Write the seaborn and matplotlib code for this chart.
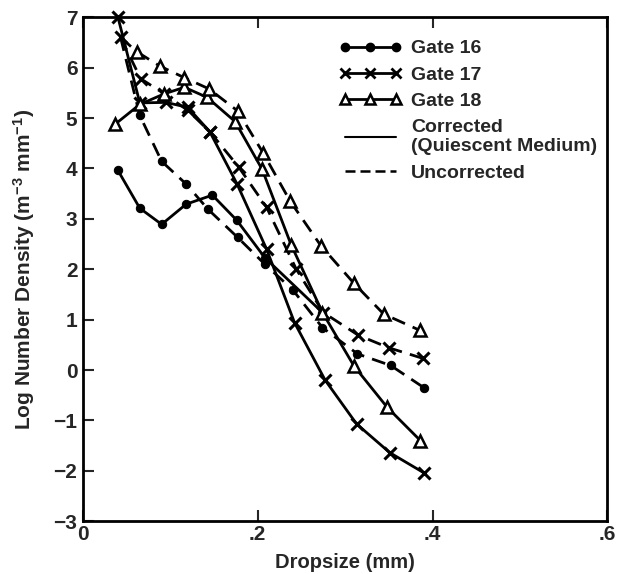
import matplotlib
matplotlib.use("Agg")
import matplotlib.pyplot as plt
import seaborn as sns
import pandas as pd
from matplotlib.lines import Line2D

# ---- data ----
g16_corr_x = [0.040, 0.065, 0.090, 0.118, 0.148, 0.176, 0.208, 0.274]
g16_corr_y = [3.96, 3.21, 2.89, 3.29, 3.47, 2.97, 2.23, 1.14]
g16_unc_x = [0.043, 0.065, 0.090, 0.118, 0.143, 0.177, 0.208, 0.240, 0.274, 0.314, 0.352, 0.390]
g16_unc_y = [6.60, 5.05, 4.14, 3.69, 3.19, 2.63, 2.10, 1.59, 0.84, 0.32, 0.09, -0.35]

g17_corr_x = [0.040, 0.065, 0.095, 0.120, 0.145, 0.176, 0.210, 0.242, 0.277, 0.313, 0.351, 0.390]
g17_corr_y = [7.00, 5.30, 5.31, 5.21, 4.73, 3.70, 2.40, 0.94, -0.20, -1.07, -1.64, -2.04]
g17_unc_x = [0.043, 0.066, 0.093, 0.120, 0.145, 0.178, 0.210, 0.244, 0.275, 0.315, 0.350, 0.389]
g17_unc_y = [6.60, 5.78, 5.48, 5.15, 4.73, 4.03, 3.23, 2.00, 1.14, 0.69, 0.44, 0.23]

g18_corr_x = [0.037, 0.065, 0.093, 0.116, 0.142, 0.174, 0.205, 0.238, 0.274, 0.310, 0.348, 0.386]
g18_corr_y = [4.88, 5.27, 5.48, 5.61, 5.41, 4.93, 3.98, 2.49, 1.14, 0.08, -0.74, -1.40]
g18_unc_x = [0.043, 0.062, 0.088, 0.116, 0.144, 0.177, 0.206, 0.237, 0.272, 0.310, 0.344, 0.385]
g18_unc_y = [6.60, 6.31, 6.03, 5.80, 5.58, 5.14, 4.31, 3.35, 2.47, 1.72, 1.11, 0.79]

x_ticks = [0, 0.2, 0.4, 0.6]
x_tick_labels = ["0", ".2", ".4", ".6"]
y_ticks = [-3, -2, -1, 0, 1, 2, 3, 4, 5, 6, 7]

legend_labels = ["Gate 16", "Gate 17", "Gate 18", "Corrected\n(Quiescent Medium)", "Uncorrected"]

# ---- style ----
sns.set_theme(style="ticks")
plt.rcParams["font.family"] = ["Liberation Sans", "DejaVu Sans"]
plt.rcParams["font.weight"] = "bold"
plt.rcParams["mathtext.default"] = "regular"

fig = plt.figure(figsize=(6.17, 5.74), dpi=100)
ax = fig.add_axes([0.1345, 0.092, 0.850, 0.878])

lw = 2.0
dot = dict(markersize=6, markerfacecolor="black")
cross = dict(markersize=9, markeredgewidth=2.2)
tri = dict(markersize=8.5, markerfacecolor="white", markeredgewidth=1.8)
series = [
    (g16_corr_x, g16_corr_y, "o", "-", dot, None),
    (g16_unc_x, g16_unc_y, "o", "--", dot, list(range(1, len(g16_unc_x)))),
    (g17_corr_x, g17_corr_y, "x", "-", cross, None),
    (g17_unc_x, g17_unc_y, "x", "--", cross, None),
    (g18_corr_x, g18_corr_y, "^", "-", tri, None),
    (g18_unc_x, g18_unc_y, "^", "--", tri, list(range(1, len(g18_unc_x)))),
]

for xs, ys, mk, ls, kw, me in series:
    df = pd.DataFrame({"x": xs, "y": ys})
    sns.lineplot(data=df, x="x", y="y", ax=ax, color="black", linewidth=lw,
                 marker=mk, markeredgecolor="black", markevery=me,
                 sort=False, estimator=None, clip_on=False, zorder=3, **kw)
for line, (xs, ys, mk, ls, kw, me) in zip(ax.get_lines(), series):
    if ls == "--":
        line.set_dashes([5, 3])
    else:
        line.set_linestyle("-")

ax.set_xlim(0, 0.6)
ax.set_ylim(-3, 7)
ax.set_xticks(x_ticks)
ax.set_xticklabels(x_tick_labels)
ax.set_yticks(y_ticks)
ax.set_yticklabels([("\u2212" + str(abs(v))) if v < 0 else str(v) for v in y_ticks])
ax.tick_params(direction="in", length=8, width=1.5, labelsize=15, pad=4)
ax.tick_params(axis="x", top=True, pad=3)
for lab in ax.get_xticklabels() + ax.get_yticklabels():
    lab.set_fontweight("bold")
for sp in ax.spines.values():
    sp.set_linewidth(2)
    sp.set_color("black")

ax.set_xlabel("Dropsize (mm)", fontsize=14.5, fontweight="bold", labelpad=6)
ax.set_ylabel("Log Number Density (m$^{-3}$ mm$^{-1}$)", fontsize=15, fontweight="bold", labelpad=12)

handles = [
    Line2D([], [], color="black", lw=lw, marker="o", markersize=6),
    Line2D([], [], color="black", lw=lw, marker="x", markersize=7, markeredgewidth=2),
    Line2D([], [], color="black", lw=lw, marker="^", markersize=7, markerfacecolor="white", markeredgewidth=1.8),
    Line2D([], [], color="black", lw=1.5, linestyle="-"),
    Line2D([], [], color="black", lw=1.8, linestyle=(0, (4, 2))),
]
leg = ax.legend(handles, legend_labels, loc="upper left", bbox_to_anchor=(0.455, 0.99),
                frameon=False, numpoints=3, handlelength=3.2, handletextpad=0.5,
                labelspacing=0.45, prop={"size": 14, "weight": "bold"})

fig.savefig("out.png", dpi=100)
